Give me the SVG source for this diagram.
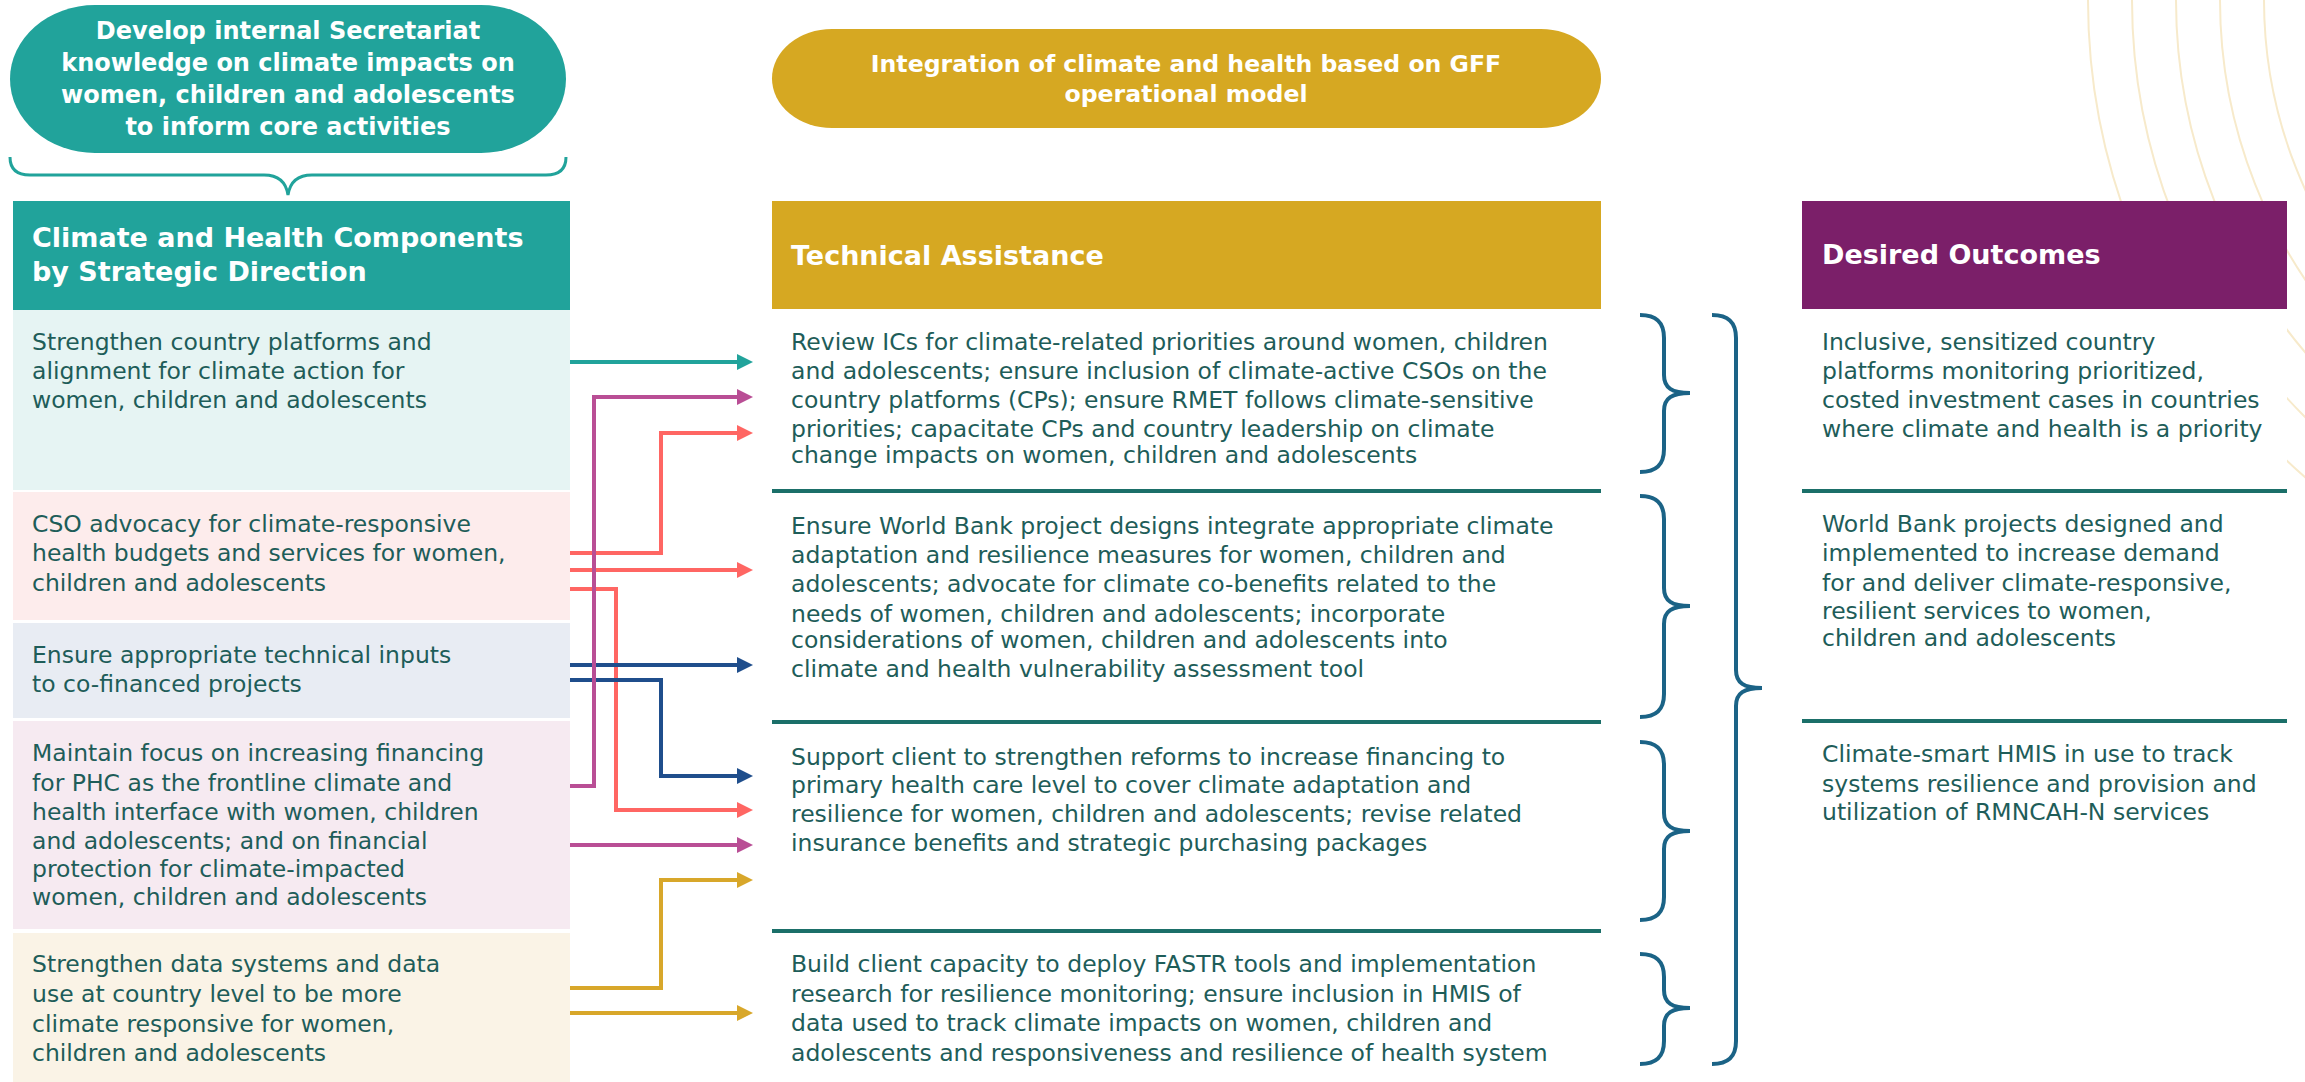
<svg xmlns="http://www.w3.org/2000/svg" width="2305" height="1082" viewBox="0 0 2305 1082">
<defs>
<style>
.t{font-family:"DejaVu Sans",sans-serif;font-size:23.5px;fill:#1E5D59}
.h{font-family:"DejaVu Sans",sans-serif;font-size:27px;font-weight:bold;fill:#fff}
.p{font-family:"DejaVu Sans",sans-serif;font-weight:bold;fill:#fff;text-anchor:middle}
.arc{fill:none;stroke:#F7EACB;stroke-width:2}
.div{stroke:#1B6F69;stroke-width:4}
.br{fill:none;stroke:#1B6386;stroke-width:4;stroke-linecap:butt}
.c{fill:none;stroke-width:4}
</style>
<marker id="mTeal" markerUnits="userSpaceOnUse" viewBox="0 0 16 16" refX="8" refY="8" markerWidth="16" markerHeight="16" orient="auto"><path d="M0,0 L16,8 L0,16 Z" fill="#21A39B"/></marker>
<marker id="mMag" markerUnits="userSpaceOnUse" viewBox="0 0 16 16" refX="8" refY="8" markerWidth="16" markerHeight="16" orient="auto"><path d="M0,0 L16,8 L0,16 Z" fill="#B94E95"/></marker>
<marker id="mCor" markerUnits="userSpaceOnUse" viewBox="0 0 16 16" refX="8" refY="8" markerWidth="16" markerHeight="16" orient="auto"><path d="M0,0 L16,8 L0,16 Z" fill="#FF6663"/></marker>
<marker id="mBlu" markerUnits="userSpaceOnUse" viewBox="0 0 16 16" refX="8" refY="8" markerWidth="16" markerHeight="16" orient="auto"><path d="M0,0 L16,8 L0,16 Z" fill="#1F4E8C"/></marker>
<marker id="mGld" markerUnits="userSpaceOnUse" viewBox="0 0 16 16" refX="8" refY="8" markerWidth="16" markerHeight="16" orient="auto"><path d="M0,0 L16,8 L0,16 Z" fill="#D8A72A"/></marker>
</defs>
<rect width="2305" height="1082" fill="#fff"/>

<g id="background-arcs">
<circle class="arc" cx="2721" cy="0" r="633"/>
<circle class="arc" cx="2721" cy="0" r="589"/>
<circle class="arc" cx="2721" cy="0" r="545"/>
<circle class="arc" cx="2721" cy="0" r="501"/>
<circle class="arc" cx="2721" cy="0" r="457"/>
</g>

<g id="pill-knowledge">
<rect x="10" y="5" width="556" height="148" rx="85" ry="74" fill="#21A39B"/>
<text class="p" font-size="24px"><tspan x="288" y="39">Develop internal Secretariat</tspan><tspan x="288" y="71">knowledge on climate impacts on</tspan><tspan x="288" y="103">women, children and adolescents</tspan><tspan x="288" y="135">to inform core activities</tspan></text>
</g>
<g id="brace-top">
<path d="M10,157 Q10,175 30,175 H264 Q285,175 288,195 Q291,175 312,175 H546 Q566,175 566,157" fill="none" stroke="#21A39B" stroke-width="3"/>
</g>

<g id="pill-integration">
<rect x="772" y="29" width="829" height="99" rx="60" ry="49.5" fill="#D6A822"/>
<text class="p" font-size="23.6px"><tspan x="1186" y="72">Integration of climate and health based on GFF</tspan><tspan x="1186" y="102">operational model</tspan></text>
</g>

<g id="header-components">
<rect x="13" y="201" width="557" height="109" fill="#21A39B"/>
<text class="h"><tspan x="32" y="247">Climate and Health Components</tspan><tspan x="32" y="281">by Strategic Direction</tspan></text>
</g>
<g id="comp-1">
<rect x="13" y="310" width="557" height="180" fill="#E6F4F3"/>
<text class="t"><tspan x="32" y="350">Strengthen country platforms and</tspan><tspan x="32" y="379">alignment for climate action for</tspan><tspan x="32" y="408">women, children and adolescents</tspan></text>
</g>
<g id="comp-2">
<rect x="13" y="492" width="557" height="128" fill="#FDECEC"/>
<text class="t"><tspan x="32" y="532">CSO advocacy for climate-responsive</tspan><tspan x="32" y="561">health budgets and services for women,</tspan><tspan x="32" y="591">children and adolescents</tspan></text>
</g>
<g id="comp-3">
<rect x="13" y="623" width="557" height="95" fill="#E8ECF3"/>
<text class="t"><tspan x="32" y="663">Ensure appropriate technical inputs</tspan><tspan x="32" y="692">to co-financed projects</tspan></text>
</g>
<g id="comp-4">
<rect x="13" y="721" width="557" height="208" fill="#F6EAF1"/>
<text class="t"><tspan x="32" y="761">Maintain focus on increasing financing</tspan><tspan x="32" y="791">for PHC as the frontline climate and</tspan><tspan x="32" y="820">health interface with women, children</tspan><tspan x="32" y="849">and adolescents; and on financial</tspan><tspan x="32" y="877">protection for climate-impacted</tspan><tspan x="32" y="905">women, children and adolescents</tspan></text>
</g>
<g id="comp-5">
<rect x="13" y="933" width="557" height="149" fill="#FAF3E6"/>
<text class="t"><tspan x="32" y="972">Strengthen data systems and data</tspan><tspan x="32" y="1002">use at country level to be more</tspan><tspan x="32" y="1032">climate responsive for women,</tspan><tspan x="32" y="1061">children and adolescents</tspan></text>
</g>

<g id="header-ta">
<rect x="772" y="201" width="829" height="108" fill="#D6A822"/>
<text class="h" x="791" y="265">Technical Assistance</text>
</g>
<g id="ta-1">
<text class="t"><tspan x="791" y="350">Review ICs for climate-related priorities around women, children</tspan><tspan x="791" y="379">and adolescents; ensure inclusion of climate-active CSOs on the</tspan><tspan x="791" y="408">country platforms (CPs); ensure RMET follows climate-sensitive</tspan><tspan x="791" y="437">priorities; capacitate CPs and country leadership on climate</tspan><tspan x="791" y="463">change impacts on women, children and adolescents</tspan></text>
</g>
<g id="ta-2">
<line class="div" x1="772" y1="491" x2="1601" y2="491"/>
<text class="t"><tspan x="791" y="534">Ensure World Bank project designs integrate appropriate climate</tspan><tspan x="791" y="563">adaptation and resilience measures for women, children and</tspan><tspan x="791" y="592">adolescents; advocate for climate co-benefits related to the</tspan><tspan x="791" y="622">needs of women, children and adolescents; incorporate</tspan><tspan x="791" y="648">considerations of women, children and adolescents into</tspan><tspan x="791" y="677">climate and health vulnerability assessment tool</tspan></text>
</g>
<g id="ta-3">
<line class="div" x1="772" y1="722" x2="1601" y2="722"/>
<text class="t"><tspan x="791" y="765">Support client to strengthen reforms to increase financing to</tspan><tspan x="791" y="793">primary health care level to cover climate adaptation and</tspan><tspan x="791" y="822">resilience for women, children and adolescents; revise related</tspan><tspan x="791" y="851">insurance benefits and strategic purchasing packages</tspan></text>
</g>
<g id="ta-4">
<line class="div" x1="772" y1="931" x2="1601" y2="931"/>
<text class="t"><tspan x="791" y="972">Build client capacity to deploy FASTR tools and implementation</tspan><tspan x="791" y="1002">research for resilience monitoring; ensure inclusion in HMIS of</tspan><tspan x="791" y="1031">data used to track climate impacts on women, children and</tspan><tspan x="791" y="1061">adolescents and responsiveness and resilience of health system</tspan></text>
</g>

<g id="braces">
<path class="br" d="M1640,315 C1656,315 1664,322 1664,338 V375 C1664,388 1672,393 1690,393 C1672,393 1664,398 1664,411 V449 C1664,465 1656,472 1640,472"/>
<path class="br" d="M1640,496 C1656,496 1664,503 1664,519 V588 C1664,601 1672,606 1690,606 C1672,606 1664,611 1664,624 V694 C1664,710 1656,717 1640,717"/>
<path class="br" d="M1640,742 C1656,742 1664,749 1664,765 V813 C1664,826 1672,831 1690,831 C1672,831 1664,836 1664,849 V897 C1664,913 1656,920 1640,920"/>
<path class="br" d="M1640,954 C1656,954 1664,961 1664,977 V990 C1664,1003 1672,1008 1690,1008 C1672,1008 1664,1013 1664,1026 V1041 C1664,1057 1656,1064 1640,1064"/>
<path class="br" d="M1712,315 C1728,315 1736,322 1736,338 V670 C1736,683 1744,688 1762,688 C1744,688 1736,693 1736,706 V1041 C1736,1057 1728,1064 1712,1064"/>
</g>

<g id="header-outcomes">
<rect x="1802" y="309" width="485" height="773" fill="#fff"/>
<rect x="1802" y="201" width="485" height="108" fill="#7B1F69"/>
<text class="h" x="1822" y="264">Desired Outcomes</text>
</g>
<g id="outcome-1">
<text class="t"><tspan x="1822" y="350">Inclusive, sensitized country</tspan><tspan x="1822" y="379">platforms monitoring prioritized,</tspan><tspan x="1822" y="408">costed investment cases in countries</tspan><tspan x="1822" y="437">where climate and health is a priority</tspan></text>
</g>
<g id="outcome-2">
<line class="div" x1="1802" y1="491" x2="2287" y2="491"/>
<text class="t"><tspan x="1822" y="532">World Bank projects designed and</tspan><tspan x="1822" y="561">implemented to increase demand</tspan><tspan x="1822" y="591">for and deliver climate-responsive,</tspan><tspan x="1822" y="619">resilient services to women,</tspan><tspan x="1822" y="646">children and adolescents</tspan></text>
</g>
<g id="outcome-3">
<line class="div" x1="1802" y1="721" x2="2287" y2="721"/>
<text class="t"><tspan x="1822" y="762">Climate-smart HMIS in use to track</tspan><tspan x="1822" y="792">systems resilience and provision and</tspan><tspan x="1822" y="820">utilization of RMNCAH-N services</tspan></text>
</g>

<g id="connectors">
<path class="c" stroke="#21A39B" marker-end="url(#mTeal)" d="M570,362 H745"/>
<path class="c" stroke="#FF6663" marker-end="url(#mCor)" d="M570,553 H661 V433 H745"/>
<path class="c" stroke="#FF6663" marker-end="url(#mCor)" d="M570,570 H745"/>
<path class="c" stroke="#FF6663" marker-end="url(#mCor)" d="M570,589 H616 V810 H745"/>
<path class="c" stroke="#1F4E8C" marker-end="url(#mBlu)" d="M570,665 H745"/>
<path class="c" stroke="#1F4E8C" marker-end="url(#mBlu)" d="M570,680 H661 V776 H745"/>
<path class="c" stroke="#B94E95" marker-end="url(#mMag)" d="M570,786 H594 V397 H745"/>
<path class="c" stroke="#B94E95" marker-end="url(#mMag)" d="M570,845 H745"/>
<path class="c" stroke="#D8A72A" marker-end="url(#mGld)" d="M570,988 H661 V880 H745"/>
<path class="c" stroke="#D8A72A" marker-end="url(#mGld)" d="M570,1013 H745"/>
</g>
</svg>
